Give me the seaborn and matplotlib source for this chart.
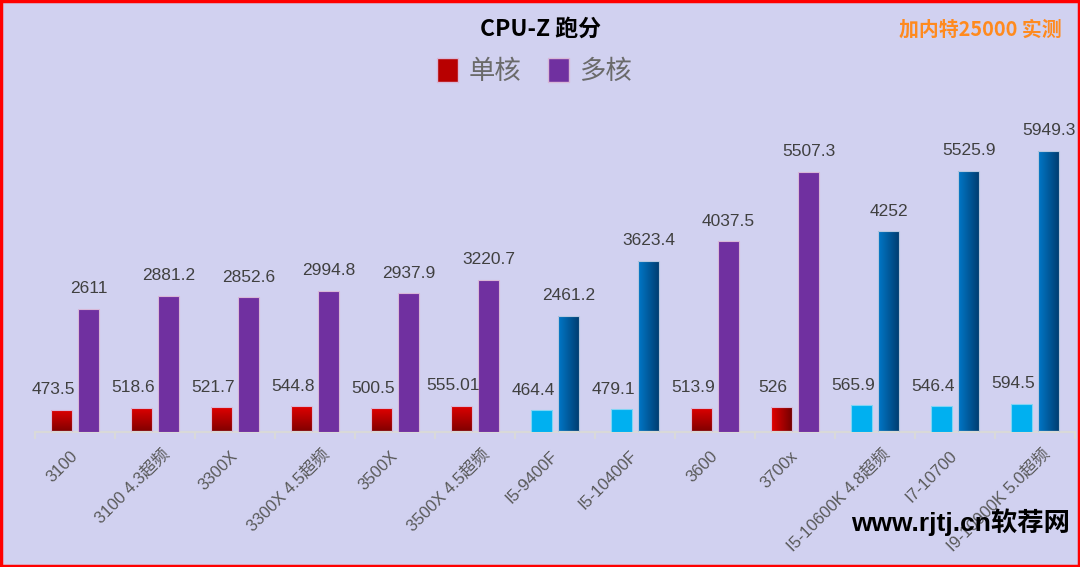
import seaborn as sns
from matplotlib import pyplot as plt
from matplotlib.colors import LinearSegmentedColormap
from matplotlib.patches import Rectangle, Patch
from matplotlib.transforms import ScaledTranslation
import pandas as pd
import numpy as np

# CPU-Z scores
models = ['3100', '3100 4.3超频', '3300X', '3300X 4.5超频', '3500X', '3500X 4.5超频',
          'I5-9400F', 'I5-10400F', '3600', '3700x', 'I5-10600K 4.8超频', 'I7-10700',
          'I9-10900K 5.0超频']
single_core = [473.5, 518.6, 521.7, 544.8, 500.5, 555.01, 464.4, 479.1, 513.9, 526,
               565.9, 546.4, 594.5]
multi_core = [2611, 2881.2, 2852.6, 2994.8, 2937.9, 3220.7, 2461.2, 3623.4, 4037.5,
              5507.3, 4252, 5525.9, 5949.3]
brands = ['AMD'] * 6 + ['Intel', 'Intel', 'AMD', 'AMD', 'Intel', 'Intel', 'Intel']

bg = '#D1D1F0'
sns.set_theme(style='white')
plt.rcParams['font.family'] = ['Liberation Sans', 'Noto Sans CJK SC', 'DejaVu Sans']

df = pd.DataFrame({
    '型号': models * 2,
    '测试': ['单核'] * len(models) + ['多核'] * len(models),
    '分数': single_core + multi_core,
})

fig = plt.figure(figsize=(10.8, 5.67), dpi=100, facecolor=bg)
ax = fig.add_axes([0.0324, 0.238, 0.963, 0.568])
ax.set_facecolor(bg)

sns.barplot(data=df, x='型号', y='分数', hue='测试', width=0.68, gap=0.235,
            errorbar=None, legend=False, ax=ax)

# gradients like the office chart
red_v = LinearSegmentedColormap.from_list('rv', ['#7E0000', '#E00000'])
red_h = LinearSegmentedColormap.from_list('rh', ['#E40000', '#740000'])
blue_h = LinearSegmentedColormap.from_list('bh', ['#0078C8', '#003E72'])
vert = np.linspace(0, 1, 64).reshape(-1, 1)
horiz = np.linspace(0, 1, 64).reshape(1, -1)


def fill_gradient(bar, grad, cmap):
    x, y = bar.get_x(), bar.get_y()
    w, h = bar.get_width(), bar.get_height()
    bar.set_facecolor('none')
    im = ax.imshow(grad, extent=[x, x + w, y, y + h], origin='lower', aspect='auto',
                   cmap=cmap, zorder=2, interpolation='bilinear')
    im.set_clip_path(bar)


single_bars, multi_bars = ax.containers[0], ax.containers[1]
for i, (b1, b2) in enumerate(zip(single_bars, multi_bars)):
    for b in (b1, b2):
        b.set_edgecolor('#D8B8D8')
        b.set_linewidth(0.8)
        b.set_zorder(3)
    if brands[i] == 'AMD':
        b2.set_facecolor('#7030A0')
        if models[i] == '3700x':
            fill_gradient(b1, horiz, red_h)
        else:
            fill_gradient(b1, vert, red_v)
    else:
        b1.set_facecolor('#00B0F0')
        b1.set_edgecolor('#7FD4F4')
        fill_gradient(b2, horiz, blue_h)
        b2.set_edgecolor('#B8C8E0')

# value labels
for i in range(len(models)):
    b1, b2 = single_bars[i], multi_bars[i]
    ax.annotate(f'{single_core[i]:g}', (b1.get_x() + b1.get_width() / 2, single_core[i]),
                xytext=(-6, 9), textcoords='offset points', ha='center', va='bottom',
                fontsize=12.5, color='#404040', zorder=5)
    ax.annotate(f'{multi_core[i]:g}', (b2.get_x() + b2.get_width() / 2, multi_core[i]),
                xytext=(0, 9), textcoords='offset points', ha='center', va='bottom',
                fontsize=12.5, color='#404040', zorder=5)

ax.set_xlim(-0.5, len(models) - 0.5)
ax.set_ylim(0, 6814)
ax.set_xlabel('')
ax.set_ylabel('')
ax.set_yticks([])
for s in ['top', 'right', 'left']:
    ax.spines[s].set_visible(False)
ax.spines['bottom'].set_color('#D9D9D9')
ax.spines['bottom'].set_linewidth(1.6)

ax.set_xticks(range(len(models)))
ax.set_xticklabels(models, rotation=45, ha='right', va='center', rotation_mode='anchor',
                   fontsize=12, color='#595959')
ax.tick_params(axis='x', which='major', length=0, pad=15.5)
ax.set_xticks(np.arange(-0.5, len(models), 1), minor=True)
ax.tick_params(axis='x', which='minor', length=5, width=1.5, color='#D9D9D9', bottom=True)
# the longer overclock labels sit a little further right in the original
for lab in ax.get_xticklabels():
    if '超频' in lab.get_text():
        lab.set_transform(lab.get_transform() +
                          ScaledTranslation(0.12, 0.02, fig.dpi_scale_trans))

# legend
handles = [Patch(facecolor='#B80000', edgecolor='#D8B8D8', label='单核'),
           Patch(facecolor='#7030A0', edgecolor='#D8B8D8', label='多核')]
fig.legend(handles=handles, loc='center', bbox_to_anchor=(0.495, 0.874), ncol=2, frameon=False,
           prop={'family': ['Noto Sans CJK SC'], 'size': 19, 'weight': 'light'},
           labelcolor='#6A6A6A', handlelength=0.8, handleheight=1.0, handletextpad=0.4,
           columnspacing=1.0)

fig.text(0.5, 0.948, 'CPU-Z 跑分', ha='center', va='center', fontsize=16.5,
         fontweight='bold', family=['Noto Sans CJK SC'], color='black')
fig.text(0.983, 0.949, '加内特25000 实测', ha='right', va='center', fontsize=14.3,
         fontweight='bold', family=['Noto Sans CJK SC'], color='#FF8A1E')
fig.text(0.991, 0.079, 'www.rjtj.cn软荐网', ha='right', va='center', fontsize=19,
         fontweight='bold', family=['Liberation Sans', 'Noto Sans CJK SC'], color='black',
         zorder=10)

# red frame around the picture
fig.patches.append(Rectangle((0.001, 0.002), 0.998, 0.996, transform=fig.transFigure,
                             fill=False, edgecolor='#FF0000', linewidth=2.5))

fig.savefig('out.png', dpi=100, facecolor=bg)
